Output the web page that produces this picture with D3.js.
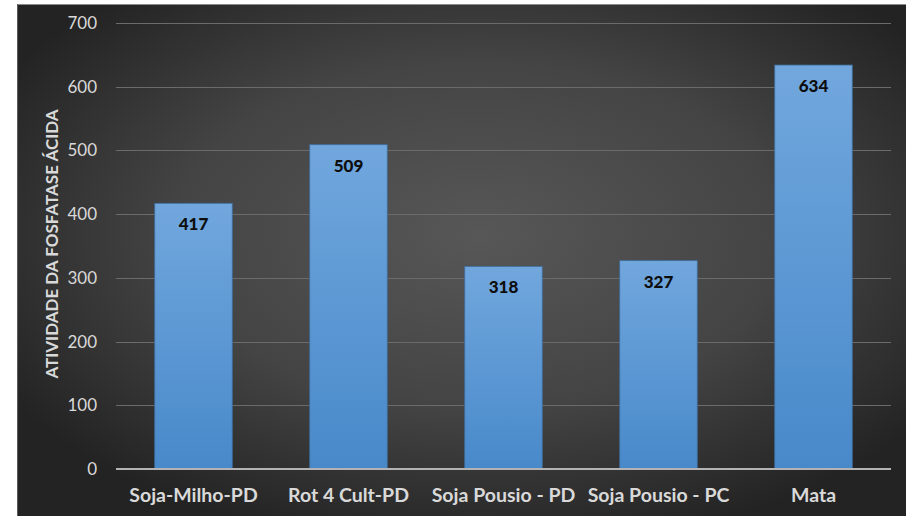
<!DOCTYPE html>
<html>
<head>
<meta charset="utf-8">
<script src="https://cdn.jsdelivr.net/npm/d3@7"></script>
<style>
  html, body { margin: 0; padding: 0; background: #ffffff; }
  svg { display: block; }
</style>
</head>
<body>
<svg id="chart" width="906" height="516"></svg>
<script>
// Acid phosphatase activity per land-use system
const categories = ["Soja-Milho-PD", "Rot 4 Cult-PD", "Soja Pousio - PD", "Soja Pousio - PC", "Mata"];
const values = [417, 509, 318, 327, 634];
const yTicks = [0, 100, 200, 300, 400, 500, 600, 700];
const yTitle = "ATIVIDADE DA FOSFATASE ÁCIDA";

const W = 906, H = 516;
const FONT = "Lato, 'Open Sans', sans-serif";
const svg = d3.select("#chart");
const defs = svg.append("defs");

// dark radial backdrop
const bg = defs.append("radialGradient").attr("id", "bgGrad")
  .attr("cx", "52%").attr("cy", "45%").attr("r", "62%");
bg.append("stop").attr("offset", "0%").attr("stop-color", "#575757");
bg.append("stop").attr("offset", "55%").attr("stop-color", "#444444");
bg.append("stop").attr("offset", "100%").attr("stop-color", "#232323");

// bar fill: lighter at top
const barGrad = defs.append("linearGradient").attr("id", "barGrad")
  .attr("x1", 0).attr("y1", 0).attr("x2", 0).attr("y2", 1);
barGrad.append("stop").attr("offset", "0%").attr("stop-color", "#71a7dd");
barGrad.append("stop").attr("offset", "100%").attr("stop-color", "#4889ca");

const frame = { x: 17, y: 4, w: W - 17, h: H - 4 };
svg.append("rect")
  .attr("x", frame.x).attr("y", frame.y)
  .attr("width", frame.w).attr("height", frame.h)
  .attr("fill", "url(#bgGrad)");
svg.append("line")
  .attr("x1", frame.x).attr("x2", W).attr("y1", frame.y + 0.5).attr("y2", frame.y + 0.5)
  .attr("stroke", "#8a8a8a").attr("stroke-width", 1);
svg.append("line")
  .attr("x1", frame.x + 0.5).attr("x2", frame.x + 0.5).attr("y1", frame.y).attr("y2", H)
  .attr("stroke", "#5a5a5a").attr("stroke-width", 1);

const plot = { left: 116, right: 891, top: 23, bottom: 469 };

const x = d3.scaleBand()
  .domain(categories)
  .range([plot.left, plot.right])
  .paddingInner(0.5).paddingOuter(0.25);

const y = d3.scaleLinear()
  .domain([0, 700])
  .range([plot.bottom, plot.top]);

// gridlines
svg.append("g")
  .selectAll("line")
  .data(yTicks.filter(t => t > 0))
  .join("line")
  .attr("x1", plot.left).attr("x2", plot.right)
  .attr("y1", d => Math.round(y(d)) + 0.5).attr("y2", d => Math.round(y(d)) + 0.5)
  .attr("stroke", "#6b6b6b").attr("stroke-width", 1);

// y axis labels
const yAxis = d3.axisLeft(y).tickValues(yTicks).tickSize(0).tickPadding(0);
const yg = svg.append("g").attr("transform", `translate(${plot.left - 19},0)`).call(yAxis);
yg.select(".domain").remove();
yg.selectAll("text")
  .attr("fill", "#d9d9d9")
  .style("font-family", FONT)
  .style("font-size", "17px");

// bars
svg.append("g")
  .selectAll("rect")
  .data(values)
  .join("rect")
  .attr("x", (d, i) => x(categories[i]))
  .attr("width", x.bandwidth())
  .attr("y", d => y(d))
  .attr("height", d => y(0) - y(d))
  .attr("fill", "url(#barGrad)")
  .attr("stroke", "#3f6f9f").attr("stroke-width", 0.8);

// value labels inside bars
svg.append("g")
  .selectAll("text")
  .data(values)
  .join("text")
  .attr("x", (d, i) => x(categories[i]) + x.bandwidth() / 2)
  .attr("y", d => y(d) + 21)
  .attr("dy", "0.35em")
  .attr("text-anchor", "middle")
  .attr("fill", "#0d0d0d")
  .style("font-family", FONT)
  .style("font-weight", "900")
  .style("font-size", "17px")
  .text(d => d);

// baseline + category labels
const xAxis = d3.axisBottom(x).tickSize(0).tickPadding(0);
const xg = svg.append("g").attr("transform", `translate(0,${plot.bottom})`).call(xAxis);
xg.select(".domain").remove();
svg.append("line")
  .attr("x1", plot.left).attr("x2", plot.right)
  .attr("y1", plot.bottom).attr("y2", plot.bottom)
  .attr("stroke", "#b3b3b3").attr("stroke-width", 2);
xg.selectAll("text")
  .attr("y", 33)
  .attr("dy", "0")
  .attr("fill", "#d9d9d9")
  .style("font-family", FONT)
  .style("font-weight", "bold")
  .style("font-size", "19.5px");

// axis title
svg.append("text")
  .attr("transform", `translate(52,${(110 + 378) / 2}) rotate(-90)`)
  .attr("text-anchor", "middle")
  .attr("dy", "0.35em")
  .attr("fill", "#d9d9d9")
  .style("font-family", FONT)
  .style("font-weight", "bold")
  .style("font-size", "17px")
  .text(yTitle);
</script>
</body>
</html>
